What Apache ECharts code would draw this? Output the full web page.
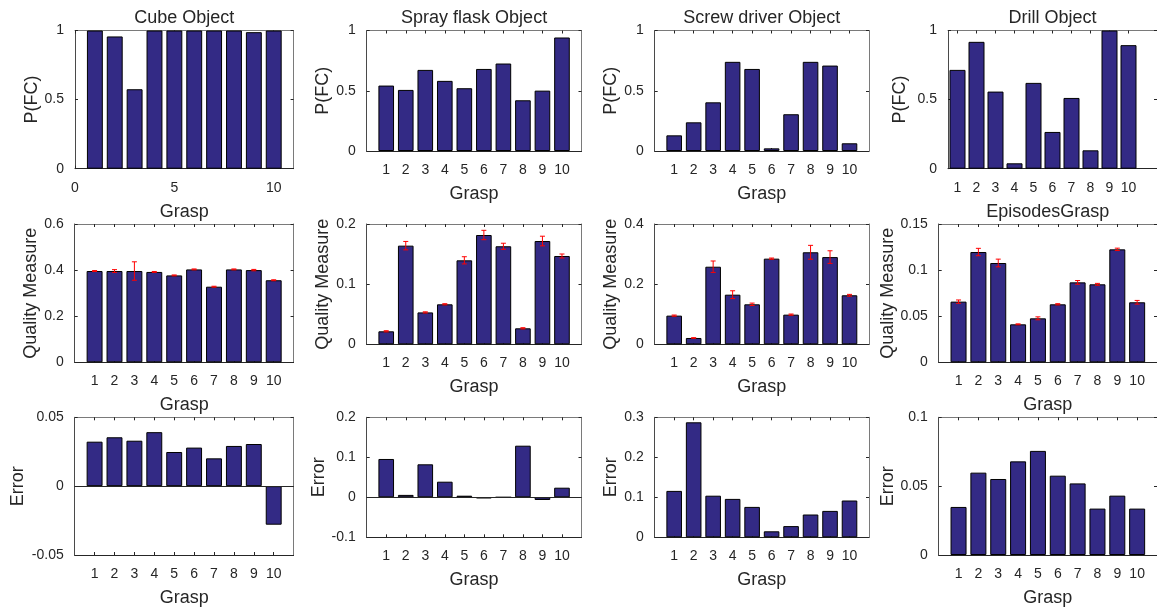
<!DOCTYPE html>
<html>
<head>
<meta charset="utf-8">
<script src="https://cdn.jsdelivr.net/npm/echarts@6/dist/echarts.min.js"></script>
<style>
  html, body { margin: 0; padding: 0; background: #fff; }
  #chart { width: 1157px; height: 611px; }
</style>
</head>
<body>
<div id="chart"></div>
<script>
// Grasp index for every panel
var GRASPS = [1, 2, 3, 4, 5, 6, 7, 8, 9, 10];

// Row 1: P(FC)
var CUBE_PFC  = [1.0, 0.957, 0.575, 1.0, 1.0, 1.0, 1.0, 1.0, 0.988, 1.0];
var SPRAY_PFC = [0.543, 0.507, 0.673, 0.582, 0.521, 0.681, 0.726, 0.421, 0.501, 0.942];
var SCREW_PFC = [0.130, 0.238, 0.404, 0.740, 0.681, 0.022, 0.305, 0.740, 0.709, 0.064];
var DRILL_PFC = [0.715, 0.918, 0.558, 0.039, 0.621, 0.266, 0.512, 0.133, 1.0, 0.894];

// Row 2: quality measure (mean and half-width of error bar)
var CUBE_QM      = [0.396, 0.396, 0.396, 0.392, 0.377, 0.403, 0.328, 0.403, 0.400, 0.356];
var CUBE_QM_ERR  = [0.002, 0.006, 0.040, 0.002, 0.002, 0.002, 0.002, 0.002, 0.003, 0.002];
var SPRAY_QM     = [0.0216, 0.164, 0.053, 0.0665, 0.1396, 0.1817, 0.163, 0.0266, 0.1717, 0.1468];
var SPRAY_QM_ERR = [0.001, 0.007, 0.001, 0.001, 0.006, 0.0078, 0.005, 0.001, 0.008, 0.0033];
var SCREW_QM     = [0.0953, 0.021, 0.258, 0.165, 0.133, 0.2848, 0.0986, 0.306, 0.290, 0.163];
var SCREW_QM_ERR = [0.002, 0.001, 0.019, 0.013, 0.004, 0.002, 0.002, 0.023, 0.021, 0.003];
var DRILL_QM     = [0.0658, 0.1196, 0.1077, 0.0412, 0.0477, 0.0629, 0.0867, 0.0846, 0.1225, 0.0651];
var DRILL_QM_ERR = [0.0018, 0.004, 0.0042, 0.0005, 0.0016, 0.0007, 0.002, 0.001, 0.0013, 0.002];

// Row 3: error
var CUBE_ERR  = [0.0323, 0.0355, 0.033, 0.0392, 0.0248, 0.028, 0.0202, 0.0292, 0.0306, -0.028];
var SPRAY_ERR = [0.0958, 0.006, 0.0825, 0.039, 0.004, -0.0025, 0, 0.129, -0.0067, 0.024];
var SCREW_ERR = [0.116, 0.2875, 0.104, 0.096, 0.076, 0.015, 0.028, 0.057, 0.066, 0.092];
var DRILL_ERR = [0.0349, 0.0598, 0.0552, 0.068, 0.0756, 0.0576, 0.052, 0.0337, 0.0431, 0.0337];

// Tick values
var CUBE_X_TICKS = [0, 5, 10];

var FONT = '"Liberation Sans", Arial, Helvetica, sans-serif';
var INK = '#262626';
var BOX = '#7a7a7a';
var BAR = '#332a85';

// box = [left, top, width, height] in px, x/y = [min, max(, step)]
var PANELS = [
  { data: CUBE_PFC,  title: 'Cube Object',         yName: 'P(FC)', xName: 'Grasp', x: [0, 11], xTicks: CUBE_X_TICKS, y: [0, 1, 0.5], box: [75, 30.5, 218.6, 138.2], yGap: 32 },
  { data: SPRAY_PFC, title: 'Spray flask Object',  yName: 'P(FC)', xName: 'Grasp', x: [0, 11], y: [0, 1, 0.5], box: [366.7, 30.5, 214.8, 120.5], yGap: 34 },
  { data: SCREW_PFC, title: 'Screw driver Object', yName: 'P(FC)', xName: 'Grasp', x: [0, 11], y: [0, 1, 0.5], box: [654.7, 30.5, 214.3, 120.5], yGap: 33 },
  { data: DRILL_PFC, title: 'Drill Object',        yName: 'P(FC)', xName: '',      x: [0.5, 11.5], y: [0, 1, 0.5], box: [948, 30.5, 220, 138.2], yGap: 39 },

  { data: CUBE_QM,  err: CUBE_QM_ERR,  title: '',              yName: 'Quality Measure', xName: 'Grasp', x: [0, 11], y: [0, 0.6, 0.2], box: [74.7, 224, 218.9, 138.3], yGap: 32 },
  { data: SPRAY_QM, err: SPRAY_QM_ERR, title: '',              yName: 'Quality Measure', xName: 'Grasp', x: [0, 11], y: [0, 0.2, 0.1], box: [366.7, 224, 214.8, 120.3], yGap: 34 },
  { data: SCREW_QM, err: SCREW_QM_ERR, title: '',              yName: 'Quality Measure', xName: 'Grasp', x: [0, 11], y: [0, 0.4, 0.2], box: [654.7, 224, 214.3, 120.3], yGap: 33 },
  { data: DRILL_QM, err: DRILL_QM_ERR, title: 'EpisodesGrasp', yName: 'Quality Measure', xName: 'Grasp', x: [0, 11], y: [0, 0.15, 0.05], box: [938.7, 224, 220, 138.3], yGap: 42 },

  { data: CUBE_ERR,  title: '', yName: 'Error', xName: 'Grasp', x: [0, 11], y: [-0.05, 0.05, 0.05], box: [74.7, 417.3, 218.9, 137.7], yGap: 48 },
  { data: SPRAY_ERR, title: '', yName: 'Error', xName: 'Grasp', x: [0, 11], y: [-0.1, 0.2, 0.1],    box: [366.7, 417.3, 214.8, 120], yGap: 39 },
  { data: SCREW_ERR, title: '', yName: 'Error', xName: 'Grasp', x: [0, 11], y: [0, 0.3, 0.1],       box: [654.7, 417.3, 214.3, 120], yGap: 33 },
  { data: DRILL_ERR, title: '', yName: 'Error', xName: 'Grasp', x: [0, 11], y: [0, 0.1, 0.05],      box: [938.7, 417.3, 220, 137.7], yGap: 42 }
];

function textStyle(size) {
  return { color: INK, fontSize: size, fontFamily: FONT };
}

// Red error bar with small caps
function renderErrorBar(params, api) {
  var x = api.value(0);
  var lo = api.coord([x, api.value(1)]);
  var hi = api.coord([x, api.value(2)]);
  var cap = 2.5;
  var style = { stroke: '#ff0000', lineWidth: 1 };
  return {
    type: 'group',
    children: [
      { type: 'line', shape: { x1: lo[0], y1: lo[1], x2: hi[0], y2: hi[1] }, style: style },
      { type: 'line', shape: { x1: lo[0] - cap, y1: lo[1], x2: lo[0] + cap, y2: lo[1] }, style: style },
      { type: 'line', shape: { x1: hi[0] - cap, y1: hi[1], x2: hi[0] + cap, y2: hi[1] }, style: style }
    ]
  };
}

function addPanel(opt, p, i) {
  var unit = p.box[2] / (p.x[1] - p.x[0]);
  var xTicks = p.xTicks || GRASPS;

  opt.grid.push({ left: p.box[0], top: p.box[1], width: p.box[2], height: p.box[3] });

  // bottom x axis, top x axis (box edge + title)
  opt.xAxis.push({
    type: 'value', gridIndex: i, min: p.x[0], max: p.x[1], position: 'bottom',
    name: p.xName, nameLocation: 'middle', nameGap: 34, nameTextStyle: textStyle(18),
    axisLine: { show: true, onZero: false, lineStyle: { color: INK, width: 1 } },
    axisTick: { show: true, inside: true, length: 3, customValues: xTicks, lineStyle: { color: INK } },
    axisLabel: { show: true, margin: 12, customValues: xTicks, formatter: '{value}', textStyle: textStyle(14) },
    splitLine: { show: false }
  });
  opt.xAxis.push({
    type: 'value', gridIndex: i, min: p.x[0], max: p.x[1], position: 'top',
    name: p.title, nameLocation: 'middle', nameGap: 3, nameTextStyle: textStyle(18),
    axisLine: { show: true, onZero: false, lineStyle: { color: BOX, width: 1 } },
    axisTick: { show: true, inside: true, length: 3, customValues: xTicks, lineStyle: { color: INK } },
    axisLabel: { show: false },
    splitLine: { show: false }
  });

  // left y axis, right y axis
  opt.yAxis.push({
    type: 'value', gridIndex: i, min: p.y[0], max: p.y[1], interval: p.y[2], position: 'left',
    name: p.yName, nameLocation: 'middle', nameGap: p.yGap, nameTextStyle: textStyle(18),
    axisLine: { show: true, onZero: false, lineStyle: { color: '#4a4a4a', width: 1 } },
    axisTick: { show: true, inside: true, length: 3, lineStyle: { color: INK } },
    axisLabel: { show: true, margin: 11, color: INK, fontSize: 14, fontFamily: FONT },
    splitLine: { show: false }
  });
  opt.yAxis.push({
    type: 'value', gridIndex: i, min: p.y[0], max: p.y[1], interval: p.y[2], position: 'right',
    axisLine: { show: true, onZero: false, lineStyle: { color: BOX, width: 1 } },
    axisTick: { show: true, inside: true, length: 3, lineStyle: { color: INK } },
    axisLabel: { show: false },
    splitLine: { show: false }
  });

  var bar = {
    type: 'bar', xAxisIndex: 2 * i, yAxisIndex: 2 * i,
    data: p.data.map(function (v, k) { return [GRASPS[k], v]; }),
    barWidth: 0.8 * unit,
    itemStyle: { color: BAR, borderColor: '#000', borderWidth: 1 },
    silent: true, animation: false
  };
  // zero line when the axis goes negative
  if (p.y[0] < 0) {
    bar.markLine = {
      silent: true, symbol: 'none', animation: false,
      label: { show: false },
      lineStyle: { color: INK, width: 1, type: 'solid' },
      data: [{ yAxis: 0 }]
    };
  }
  opt.series.push(bar);

  if (p.err) {
    opt.series.push({
      type: 'custom', xAxisIndex: 2 * i, yAxisIndex: 2 * i,
      renderItem: renderErrorBar,
      encode: { x: 0, y: [1, 2] },
      data: p.data.map(function (v, k) { return [GRASPS[k], v - p.err[k], v + p.err[k]]; }),
      silent: true, animation: false, z: 5
    });
  }
}

var option = {
  backgroundColor: '#ffffff',
  animation: false,
  textStyle: { fontFamily: FONT },
  grid: [], xAxis: [], yAxis: [], series: []
};
PANELS.forEach(function (p, i) { addPanel(option, p, i); });

var chart = echarts.init(document.getElementById('chart'), null, { renderer: 'canvas' });
chart.setOption(option);
</script>
</body>
</html>
